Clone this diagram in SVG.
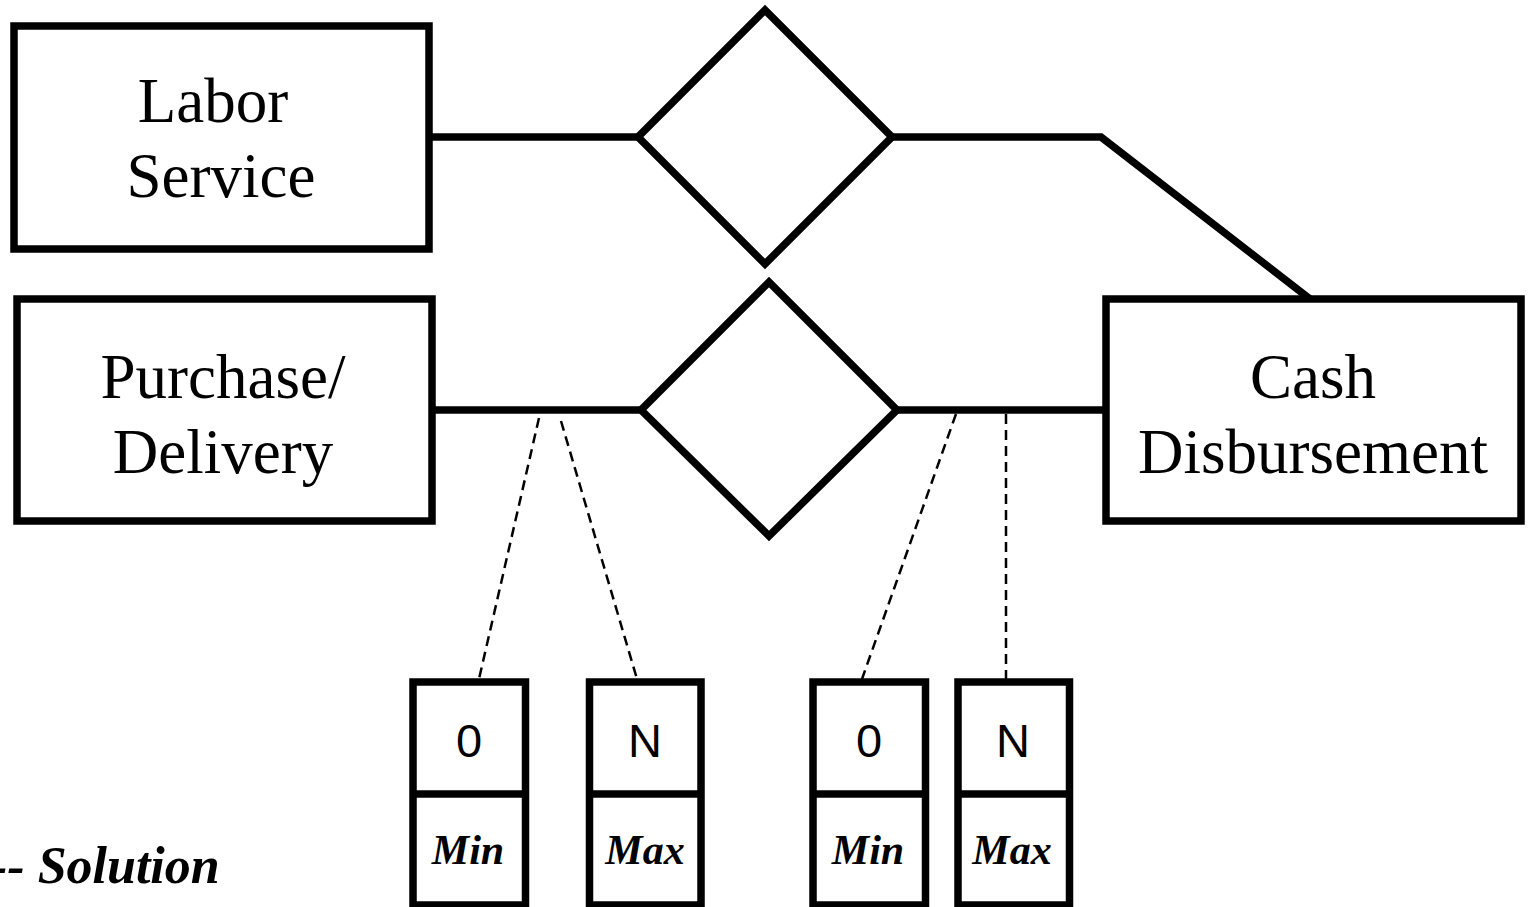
<svg xmlns="http://www.w3.org/2000/svg" width="1531" height="907" viewBox="0 0 1531 907">
<style>
.shape{fill:#fff;stroke:#000;stroke-width:7.5}
.line{fill:none;stroke:#000;stroke-width:7.5}
.dash{fill:none;stroke:#000;stroke-width:2.5;stroke-dasharray:10 6}
.big{font-family:"Liberation Serif","Times New Roman",serif;font-size:63px;text-anchor:middle;fill:#000}
.num{font-family:"Liberation Sans",Arial,sans-serif;font-size:47px;text-anchor:middle;fill:#000}
.lab{font-family:"Liberation Serif","Times New Roman",serif;font-size:42px;font-weight:bold;font-style:italic;text-anchor:middle;fill:#000}
.sol{font-family:"Liberation Serif","Times New Roman",serif;font-size:52px;font-weight:bold;font-style:italic;fill:#000}
</style>
<rect width="1531" height="907" fill="#fff"/>
<g id="connectors">
<line class="line" x1="429" y1="137" x2="638" y2="137"/>
<polyline class="line" points="892,137 1101,137 1310,299"/>
<line class="line" x1="432" y1="410" x2="641" y2="410"/>
<line class="line" x1="897" y1="410" x2="1105" y2="410"/>
<line class="dash" x1="539" y1="418" x2="479" y2="679"/>
<line class="dash" x1="561" y1="421" x2="637" y2="679"/>
<line class="dash" x1="956" y1="414" x2="862" y2="679"/>
<line class="dash" x1="1006" y1="414" x2="1006" y2="679"/>
</g>
<g id="labor-service">
<rect class="shape" x="14" y="26" width="415" height="223"/>
<text class="big" x="213" y="122">Labor</text>
<text class="big" x="221" y="197">Service</text>
</g>
<g id="purchase-delivery">
<rect class="shape" x="17" y="299" width="415" height="222"/>
<text class="big" x="223" y="398">Purchase/</text>
<text class="big" x="223" y="473">Delivery</text>
</g>
<g id="cash-disbursement">
<rect class="shape" x="1106" y="299" width="415" height="222"/>
<text class="big" x="1313" y="398">Cash</text>
<text class="big" x="1313" y="473">Disbursement</text>
</g>
<g id="rel-top">
<polygon class="shape" points="638,137 765,10 892,137 765,264"/>
</g>
<g id="rel-bottom">
<polygon class="shape" points="641,410 769,282 897,410 769,536"/>
</g>
<g id="card-1">
<rect class="shape" x="413" y="682" width="112.5" height="223"/>
<line class="line" x1="413" y1="794" x2="525.5" y2="794"/>
<text class="num" x="469" y="757">0</text>
<text class="lab" x="468" y="864">Min</text>
</g>
<g id="card-2">
<rect class="shape" x="589.5" y="682" width="111.5" height="223"/>
<line class="line" x1="589.5" y1="794" x2="701" y2="794"/>
<text class="num" x="645" y="757">N</text>
<text class="lab" x="645" y="864">Max</text>
</g>
<g id="card-3">
<rect class="shape" x="813" y="682" width="112.5" height="223"/>
<line class="line" x1="813" y1="794" x2="925.5" y2="794"/>
<text class="num" x="869" y="757">0</text>
<text class="lab" x="868" y="864">Min</text>
</g>
<g id="card-4">
<rect class="shape" x="958" y="682" width="111.5" height="223"/>
<line class="line" x1="958" y1="794" x2="1069.5" y2="794"/>
<text class="num" x="1013" y="757">N</text>
<text class="lab" x="1012" y="864">Max</text>
</g>
<text class="sol" x="-10" y="883">-- Solution</text>
</svg>
